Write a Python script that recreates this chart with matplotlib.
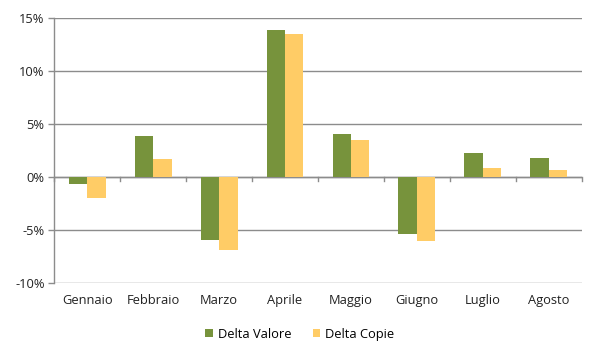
import matplotlib
matplotlib.use("Agg")
import matplotlib.pyplot as plt
import numpy as np
from matplotlib.ticker import FuncFormatter, MultipleLocator

months = ["Gennaio", "Febbraio", "Marzo", "Aprile", "Maggio", "Giugno", "Luglio", "Agosto"]
delta_valore = [-0.7, 3.9, -6.0, 13.9, 4.1, -5.4, 2.3, 1.8]
delta_copie = [-2.0, 1.7, -6.9, 13.5, 3.5, -6.1, 0.8, 0.7]
series_names = ["Delta Valore", "Delta Copie"]
colors = ["#77933C", "#FFCC66"]

plt.rcParams['font.family'] = ['Open Sans', 'DejaVu Sans']
fs = 9.3

fig = plt.figure(figsize=(6, 3.6), dpi=100)
ax = fig.add_axes([0.0905, 0.215, 0.879, 0.734])

x = np.arange(len(months))
w = 0.28
ax.bar(x - w/2, delta_valore, width=w, color=colors[0], label=series_names[0], zorder=3)
ax.bar(x + w/2, delta_copie, width=w, color=colors[1], label=series_names[1], zorder=3)

ax.set_xlim(-0.5, len(months) - 0.5)
ax.set_ylim(-10, 15)
ax.yaxis.set_major_locator(MultipleLocator(5))
ax.yaxis.set_major_formatter(FuncFormatter(lambda v, p: f"{v:.0f}%"))
ax.grid(axis='y', color='#8C8C8C', linewidth=1.0, zorder=0)
ax.set_axisbelow(True)

for s in ['top', 'right', 'bottom']:
    ax.spines[s].set_visible(False)
ax.spines['left'].set_color('#8C8C8C')
ax.spines['left'].set_linewidth(1.0)

# zero axis line with ticks at category boundaries
ax.axhline(0, color='#8C8C8C', linewidth=1.0, zorder=2)
for b in np.arange(-0.5, len(months), 1.0):
    ax.plot([b, b], [0, -0.35], color='#8C8C8C', linewidth=1.0, zorder=2, clip_on=False)

ax.set_xticks(x)
ax.set_xticklabels(months)
ax.tick_params(axis='x', length=0, pad=8, labelsize=fs, colors='#222222')
ax.tick_params(axis='y', length=4, width=1.0, color='#8C8C8C', labelsize=fs, labelcolor='#222222', pad=3)

leg = fig.legend(loc='center', bbox_to_anchor=(0.5, 0.072), ncol=2, frameon=False,
                 fontsize=fs, handlelength=0.6, handleheight=0.6, handletextpad=0.4,
                 columnspacing=1.6)

fig.savefig("out.png", dpi=100)
